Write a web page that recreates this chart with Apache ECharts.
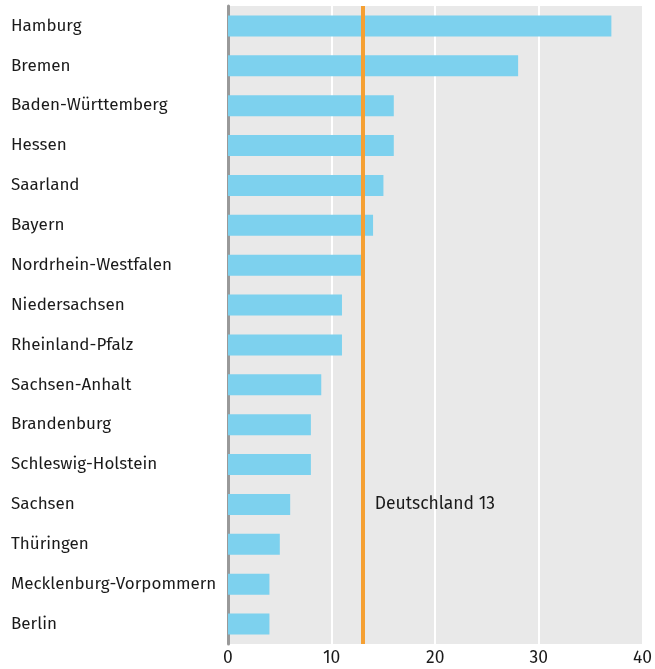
<!DOCTYPE html>
<html><head><meta charset="utf-8">
<script src="https://cdn.jsdelivr.net/npm/echarts@6/dist/echarts.min.js"></script>
<style>html,body{margin:0;padding:0;background:#fff}#c{width:655px;height:669px}</style>
</head><body><div id="c"></div>
<script>
const categories = ["Hamburg","Bremen","Baden-Württemberg","Hessen","Saarland","Bayern","Nordrhein-Westfalen","Niedersachsen","Rheinland-Pfalz","Sachsen-Anhalt","Brandenburg","Schleswig-Holstein","Sachsen","Thüringen","Mecklenburg-Vorpommern","Berlin"];
const values = [37,28,16,16,15,14,13,11,11,9,8,8,6,5,4,4];
const germanyValue = 13;
const germanyLabel = "Deutschland 13";
const xTicks = [0,10,20,30,40];

const chart = echarts.init(document.getElementById('c'), null, {renderer:'canvas'});
const font = '"Fira Sans","Noto Sans","Open Sans",sans-serif';
chart.setOption({
  animation:false,
  grid:{left:228,right:12,top:6,bottom:25,show:true,backgroundColor:'#e9e9e9',borderWidth:0},
  xAxis:{type:'value',min:xTicks[0],max:xTicks[xTicks.length-1],interval:10,
    axisLine:{show:false},axisTick:{show:false},
    axisLabel:{color:'#1a1a1a',fontSize:17.5,fontFamily:font,margin:5},
    splitLine:{show:true,lineStyle:{color:'#ffffff',width:2}}},
  yAxis:{type:'category',data:categories,inverse:true,
    axisLine:{show:true,lineStyle:{color:'#999999',width:3}},
    axisTick:{show:false},
    axisLabel:{color:'#1a1a1a',fontSize:17,fontFamily:font,align:'left',margin:217}},
  series:[{type:'bar',data:values,barWidth:21,itemStyle:{color:'#7dd1ee'},
    markLine:{silent:true,symbol:'none',label:{show:false},
      lineStyle:{color:'#f5a033',width:4,type:'solid'},
      data:[{xAxis:germanyValue}]},
    markPoint:{symbol:'circle',symbolSize:0,
      label:{show:true,position:'right',distance:12,formatter:germanyLabel,color:'#1a1a1a',fontSize:17.5,fontFamily:font},
      data:[{coord:[germanyValue,'Sachsen']}]}
  }]
});
</script></body></html>
